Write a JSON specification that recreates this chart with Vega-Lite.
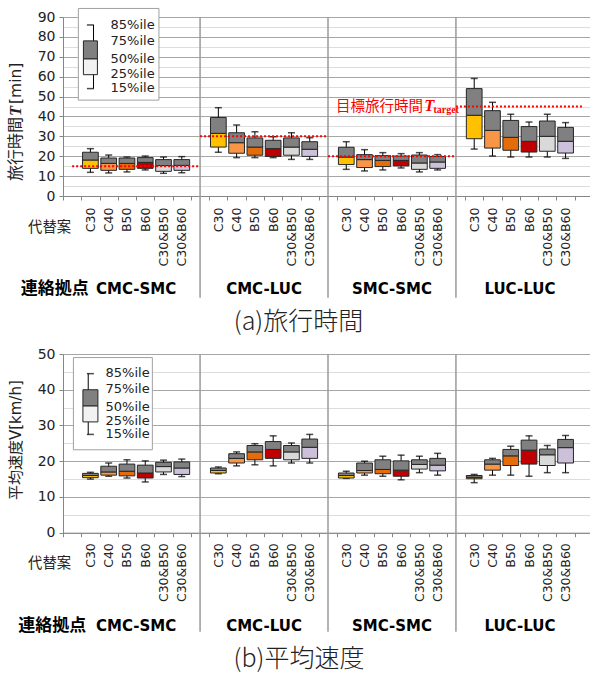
{
  "$schema": "https://vega.github.io/schema/vega-lite/v6.json",
  "background": "white",
  "padding": {"left": 7, "top": 7, "right": 0, "bottom": 3},
  "spacing": 11,
  "config": {
    "view": {"stroke": null},
    "font": "DejaVu Sans",
    "axisY": {"labelOverlap": false, "labelBound": false, "labelSeparation": 0, "tickCount": 10, "tickMinStep": 10, "labelFont": "DejaVu Sans", "labelFontSize": 14, "labelColor": "#222222", "labelPadding": 4}
  },
  "datasets": {
    "groups": [
      {"pair": "CMC-SMC", "gap": "CMC-SMC|", "next": "CMC-LUC|", "mid": "CMC-SMC|B50", "target": 15},
      {"pair": "CMC-LUC", "gap": "CMC-LUC|", "next": "SMC-SMC|", "mid": "CMC-LUC|B50", "target": 30},
      {"pair": "SMC-SMC", "gap": "SMC-SMC|", "next": "LUC-LUC|", "mid": "SMC-SMC|B50", "target": 20},
      {"pair": "LUC-LUC", "gap": "LUC-LUC|", "next": "end|", "mid": "LUC-LUC|B50", "target": 45}
    ],
    "time": [
      {"pair": "CMC-SMC", "alt": "C30", "key": "CMC-SMC|C30", "p15": 11.9, "p25": 13.9, "p50": 18.1, "p75": 22.0, "p85": 23.8},
      {"pair": "CMC-SMC", "alt": "C40", "key": "CMC-SMC|C40", "p15": 11.6, "p25": 12.9, "p50": 16.4, "p75": 19.1, "p85": 20.6},
      {"pair": "CMC-SMC", "alt": "B50", "key": "CMC-SMC|B50", "p15": 12.1, "p25": 13.4, "p50": 16.4, "p75": 19.1, "p85": 19.6},
      {"pair": "CMC-SMC", "alt": "B60", "key": "CMC-SMC|B60", "p15": 13.1, "p25": 13.9, "p50": 16.9, "p75": 19.3, "p85": 20.1},
      {"pair": "CMC-SMC", "alt": "C30&B50", "key": "CMC-SMC|C30&B50", "p15": 11.4, "p25": 12.4, "p50": 15.3, "p75": 18.3, "p85": 19.6},
      {"pair": "CMC-SMC", "alt": "C30&B60", "key": "CMC-SMC|C30&B60", "p15": 11.7, "p25": 12.9, "p50": 15.4, "p75": 18.3, "p85": 19.8},
      {"pair": "CMC-LUC", "alt": "C30", "key": "CMC-LUC|C30", "p15": 22.0, "p25": 24.6, "p50": 31.5, "p75": 39.5, "p85": 44.4},
      {"pair": "CMC-LUC", "alt": "C40", "key": "CMC-LUC|C40", "p15": 19.3, "p25": 21.5, "p50": 26.8, "p75": 31.8, "p85": 35.7},
      {"pair": "CMC-LUC", "alt": "B50", "key": "CMC-LUC|B50", "p15": 19.3, "p25": 20.5, "p50": 24.6, "p75": 29.2, "p85": 32.3},
      {"pair": "CMC-LUC", "alt": "B60", "key": "CMC-LUC|B60", "p15": 19.3, "p25": 19.9, "p50": 23.8, "p75": 28.0, "p85": 29.8},
      {"pair": "CMC-LUC", "alt": "C30&B50", "key": "CMC-LUC|C30&B50", "p15": 18.4, "p25": 20.5, "p50": 24.6, "p75": 29.2, "p85": 31.8},
      {"pair": "CMC-LUC", "alt": "C30&B60", "key": "CMC-LUC|C30&B60", "p15": 18.4, "p25": 19.9, "p50": 23.5, "p75": 27.3, "p85": 29.3},
      {"pair": "SMC-SMC", "alt": "C30", "key": "SMC-SMC|C30", "p15": 13.4, "p25": 15.8, "p50": 19.6, "p75": 24.5, "p85": 27.3},
      {"pair": "SMC-SMC", "alt": "C40", "key": "SMC-SMC|C40", "p15": 12.6, "p25": 14.3, "p50": 18.3, "p75": 20.8, "p85": 23.3},
      {"pair": "SMC-SMC", "alt": "B50", "key": "SMC-SMC|B50", "p15": 13.1, "p25": 14.8, "p50": 17.9, "p75": 20.3, "p85": 21.8},
      {"pair": "SMC-SMC", "alt": "B60", "key": "SMC-SMC|B60", "p15": 14.1, "p25": 15.1, "p50": 17.9, "p75": 20.1, "p85": 21.3},
      {"pair": "SMC-SMC", "alt": "C30&B50", "key": "SMC-SMC|C30&B50", "p15": 12.1, "p25": 13.4, "p50": 16.6, "p75": 20.6, "p85": 21.8},
      {"pair": "SMC-SMC", "alt": "C30&B60", "key": "SMC-SMC|C30&B60", "p15": 13.1, "p25": 13.9, "p50": 17.1, "p75": 19.9, "p85": 20.8},
      {"pair": "LUC-LUC", "alt": "C30", "key": "LUC-LUC|C30", "p15": 23.6, "p25": 28.8, "p50": 40.6, "p75": 54.0, "p85": 59.1},
      {"pair": "LUC-LUC", "alt": "C40", "key": "LUC-LUC|C40", "p15": 20.1, "p25": 24.1, "p50": 33.0, "p75": 42.9, "p85": 47.1},
      {"pair": "LUC-LUC", "alt": "B50", "key": "LUC-LUC|B50", "p15": 19.6, "p25": 23.0, "p50": 29.5, "p75": 38.0, "p85": 41.1},
      {"pair": "LUC-LUC", "alt": "B60", "key": "LUC-LUC|B60", "p15": 19.6, "p25": 22.1, "p50": 27.5, "p75": 34.9, "p85": 37.2},
      {"pair": "LUC-LUC", "alt": "C30&B50", "key": "LUC-LUC|C30&B50", "p15": 19.6, "p25": 22.5, "p50": 30.0, "p75": 37.7, "p85": 41.1},
      {"pair": "LUC-LUC", "alt": "C30&B60", "key": "LUC-LUC|C30&B60", "p15": 18.9, "p25": 21.6, "p50": 27.5, "p75": 34.5, "p85": 36.9}
    ],
    "speed": [
      {"pair": "CMC-SMC", "alt": "C30", "key": "CMC-SMC|C30", "p15": 15.0, "p25": 15.4, "p50": 16.0, "p75": 16.6, "p85": 16.9},
      {"pair": "CMC-SMC", "alt": "C40", "key": "CMC-SMC|C40", "p15": 15.8, "p25": 16.1, "p50": 17.0, "p75": 18.6, "p85": 19.5},
      {"pair": "CMC-SMC", "alt": "B50", "key": "CMC-SMC|B50", "p15": 15.3, "p25": 15.9, "p50": 17.2, "p75": 19.2, "p85": 20.4},
      {"pair": "CMC-SMC", "alt": "B60", "key": "CMC-SMC|B60", "p15": 14.2, "p25": 15.3, "p50": 16.7, "p75": 18.9, "p85": 20.1},
      {"pair": "CMC-SMC", "alt": "C30&B50", "key": "CMC-SMC|C30&B50", "p15": 16.3, "p25": 17.0, "p50": 18.5, "p75": 19.7, "p85": 20.3},
      {"pair": "CMC-SMC", "alt": "C30&B60", "key": "CMC-SMC|C30&B60", "p15": 15.7, "p25": 16.3, "p50": 18.1, "p75": 19.8, "p85": 20.6},
      {"pair": "CMC-LUC", "alt": "C30", "key": "CMC-LUC|C30", "p15": 16.5, "p25": 16.7, "p50": 17.4, "p75": 18.1, "p85": 18.4},
      {"pair": "CMC-LUC", "alt": "C40", "key": "CMC-LUC|C40", "p15": 18.7, "p25": 19.5, "p50": 20.8, "p75": 22.1, "p85": 22.6},
      {"pair": "CMC-LUC", "alt": "B50", "key": "CMC-LUC|B50", "p15": 19.0, "p25": 20.4, "p50": 22.6, "p75": 24.4, "p85": 24.9},
      {"pair": "CMC-LUC", "alt": "B60", "key": "CMC-LUC|B60", "p15": 18.7, "p25": 20.8, "p50": 23.3, "p75": 25.5, "p85": 27.1},
      {"pair": "CMC-LUC", "alt": "C30&B50", "key": "CMC-LUC|C30&B50", "p15": 19.5, "p25": 20.4, "p50": 22.6, "p75": 24.4, "p85": 25.1},
      {"pair": "CMC-LUC", "alt": "C30&B60", "key": "CMC-LUC|C30&B60", "p15": 19.5, "p25": 20.8, "p50": 23.9, "p75": 26.2, "p85": 27.5},
      {"pair": "SMC-SMC", "alt": "C30", "key": "SMC-SMC|C30", "p15": 15.2, "p25": 15.3, "p50": 16.0, "p75": 16.7, "p85": 17.2},
      {"pair": "SMC-SMC", "alt": "C40", "key": "SMC-SMC|C40", "p15": 16.1, "p25": 16.7, "p50": 17.4, "p75": 19.5, "p85": 20.0},
      {"pair": "SMC-SMC", "alt": "B50", "key": "SMC-SMC|B50", "p15": 15.8, "p25": 16.5, "p50": 17.7, "p75": 20.4, "p85": 21.4},
      {"pair": "SMC-SMC", "alt": "B60", "key": "SMC-SMC|B60", "p15": 14.8, "p25": 15.8, "p50": 17.5, "p75": 20.1, "p85": 21.7},
      {"pair": "SMC-SMC", "alt": "C30&B50", "key": "SMC-SMC|C30&B50", "p15": 16.8, "p25": 17.8, "p50": 19.1, "p75": 20.4, "p85": 21.4},
      {"pair": "SMC-SMC", "alt": "C30&B60", "key": "SMC-SMC|C30&B60", "p15": 16.1, "p25": 17.3, "p50": 18.9, "p75": 20.8, "p85": 22.2},
      {"pair": "LUC-LUC", "alt": "C30", "key": "LUC-LUC|C30", "p15": 14.0, "p25": 15.1, "p50": 15.5, "p75": 16.0, "p85": 16.3},
      {"pair": "LUC-LUC", "alt": "C40", "key": "LUC-LUC|C40", "p15": 16.1, "p25": 17.5, "p50": 19.2, "p75": 20.4, "p85": 20.8},
      {"pair": "LUC-LUC", "alt": "B50", "key": "LUC-LUC|B50", "p15": 16.1, "p25": 18.8, "p50": 21.5, "p75": 23.3, "p85": 24.2},
      {"pair": "LUC-LUC", "alt": "B60", "key": "LUC-LUC|B60", "p15": 15.8, "p25": 19.2, "p50": 23.1, "p75": 25.9, "p85": 27.1},
      {"pair": "LUC-LUC", "alt": "C30&B50", "key": "LUC-LUC|C30&B50", "p15": 16.8, "p25": 18.8, "p50": 21.8, "p75": 23.4, "p85": 24.4},
      {"pair": "LUC-LUC", "alt": "C30&B60", "key": "LUC-LUC|C30&B60", "p15": 16.8, "p25": 19.5, "p50": 23.8, "p75": 26.1, "p85": 27.2}
    ],
    "legendTime": [{"p15": 54, "p25": 61, "p50": 69, "p75": 78, "p85": 86}],
    "legendTimeLabels": [
      {"label": "85%ile", "v": 86.2},
      {"label": "75%ile", "v": 77.9},
      {"label": "50%ile", "v": 68.7},
      {"label": "25%ile", "v": 61.3},
      {"label": "15%ile", "v": 54.5}
    ],
    "legendSpeed": [{"p15": 27.5, "p25": 31, "p50": 35.5, "p75": 40, "p85": 44.5}],
    "legendSpeedLabels": [
      {"label": "85%ile", "v": 44.8},
      {"label": "75%ile", "v": 40.2},
      {"label": "50%ile", "v": 35.3},
      {"label": "25%ile", "v": 31.3},
      {"label": "15%ile", "v": 27.5}
    ]
  },
  "vconcat": [
    {
      "width": 530,
      "height": 179,
      "title": {"text": "(a)旅行時間", "orient": "bottom", "anchor": "middle", "frame": "bounds", "dx": -2, "offset": 12, "font": "Noto Sans CJK JP", "fontSize": 25, "fontWeight": 300, "color": "#222222"},
      "resolve": {"axis": {"y": "independent"}},
      "layer": [
        {
          "data": {"name": "groups"},
          "transform": [{"filter": "datum.pair !== 'CMC-SMC'"}],
          "mark": {"type": "rule", "color": "#9A9A9A", "strokeWidth": 1.5},
          "encoding": {
            "x": {"field": "gap", "type": "ordinal", "bandPosition": 0.5},
            "y": {
              "datum": 90, "type": "quantitative",
              "scale": {"domain": [0, 90], "nice": false},
              "axis": {"orient": "left", "title": null, "values": [5, 15, 25, 35, 45, 55, 65, 75, 85], "grid": true, "gridColor": "#DCDCDC", "labels": false, "ticks": false, "domain": false}
            },
            "y2": {"datum": -51.1}
          }
        },
        {
          "layer": [
            {
              "data": {"name": "time"},
              "layer": [
                {
                  "mark": {"type": "rule", "color": "#000000", "strokeWidth": 1},
                  "encoding": {
                    "x": {
                      "field": "key", "type": "ordinal",
                      "scale": {"type": "band", "paddingInner": 0, "paddingOuter": 0, "domain": [
                        "CMC-SMC|", "CMC-SMC|C30", "CMC-SMC|C40", "CMC-SMC|B50", "CMC-SMC|B60", "CMC-SMC|C30&B50", "CMC-SMC|C30&B60",
                        "CMC-LUC|", "CMC-LUC|C30", "CMC-LUC|C40", "CMC-LUC|B50", "CMC-LUC|B60", "CMC-LUC|C30&B50", "CMC-LUC|C30&B60",
                        "SMC-SMC|", "SMC-SMC|C30", "SMC-SMC|C40", "SMC-SMC|B50", "SMC-SMC|B60", "SMC-SMC|C30&B50", "SMC-SMC|C30&B60",
                        "LUC-LUC|", "LUC-LUC|C30", "LUC-LUC|C40", "LUC-LUC|B50", "LUC-LUC|B60", "LUC-LUC|C30&B50", "LUC-LUC|C30&B60",
                        "end|"]},
                      "axis": {"title": null, "grid": false, "labelExpr": "split(datum.value, '|')[1]", "labelAngle": -90, "labelOverlap": false, "labelFont": "DejaVu Sans", "labelFontSize": 12.5, "labelColor": "#222222", "labelPadding": 7, "tickBand": "extent", "tickSize": 4, "tickColor": "#868686", "domainColor": "#868686"}
                    },
                    "y": {
                      "field": "p15", "type": "quantitative",
                      "scale": {"domain": [0, 90], "nice": false},
                      "axis": {
                        "orient": "left", "title": null,
                        "values": [0, 10, 20, 30, 40, 50, 60, 70, 80, 90],
                        "labelOverlap": false,
                        "grid": true, "gridColor": "#A6A6A6",
                        "tickSize": 4, "tickColor": "#868686", "domainColor": "#868686"
                      }
                    },
                    "y2": {"field": "p85"}
                  }
                },
                {
                  "mark": {"type": "tick", "color": "#000000", "size": 7, "thickness": 1.5},
                  "encoding": {"x": {"field": "key", "type": "ordinal"}, "y": {"field": "p15", "type": "quantitative"}}
                },
                {
                  "mark": {"type": "tick", "color": "#000000", "size": 7, "thickness": 1.5},
                  "encoding": {"x": {"field": "key", "type": "ordinal"}, "y": {"field": "p85", "type": "quantitative"}}
                },
                {
                  "mark": {"type": "bar", "width": {"band": 0.86}, "stroke": "#262626", "strokeWidth": 1},
                  "encoding": {
                    "x": {"field": "key", "type": "ordinal"},
                    "y": {"field": "p25", "type": "quantitative"},
                    "y2": {"field": "p50"},
                    "color": {"field": "alt", "type": "nominal", "legend": null, "scale": {"domain": ["C30", "C40", "B50", "B60", "C30&B50", "C30&B60"], "range": ["#FFC000", "#F79646", "#E46C0A", "#C00000", "#D9D9D9", "#CCC0DA"]}}
                  }
                },
                {
                  "mark": {"type": "bar", "width": {"band": 0.86}, "fill": "#808080", "stroke": "#262626", "strokeWidth": 1},
                  "encoding": {"x": {"field": "key", "type": "ordinal"}, "y": {"field": "p50", "type": "quantitative"}, "y2": {"field": "p75"}}
                }
              ]
            },
            {
              "data": {"name": "groups"},
              "mark": {"type": "rule", "color": "#FF0000", "strokeWidth": 2, "strokeDash": [2, 2]},
              "encoding": {
                "x": {"field": "gap", "type": "ordinal", "bandPosition": 0.5},
                "x2": {"field": "next", "bandPosition": 0.5},
                "y": {"field": "target", "type": "quantitative"}
              }
            },
            {
              "data": {"name": "legendTime"},
              "layer": [
                {
                  "mark": {"type": "rect", "fill": "#FFFFFF", "stroke": "#A0A0A0", "strokeWidth": 1},
                  "encoding": {
                    "x": {"datum": "CMC-SMC|", "type": "ordinal", "bandPosition": 0.84},
                    "x2": {"datum": "CMC-SMC|C30&B50", "bandPosition": 0.25},
                    "y": {"datum": 94.3, "type": "quantitative"},
                    "y2": {"datum": 48.2}
                  }
                },
                {
                  "mark": {"type": "rule", "color": "#000000", "strokeWidth": 1},
                  "encoding": {"x": {"datum": "CMC-SMC|C30", "type": "ordinal", "bandPosition": 0.67}, "y": {"field": "p15", "type": "quantitative"}, "y2": {"field": "p85"}}
                },
                {
                  "mark": {"type": "tick", "color": "#000000", "size": 7, "thickness": 1.5},
                  "encoding": {"x": {"datum": "CMC-SMC|C30", "type": "ordinal", "bandPosition": 0.67}, "y": {"field": "p15", "type": "quantitative"}}
                },
                {
                  "mark": {"type": "tick", "color": "#000000", "size": 7, "thickness": 1.5},
                  "encoding": {"x": {"datum": "CMC-SMC|C30", "type": "ordinal", "bandPosition": 0.67}, "y": {"field": "p85", "type": "quantitative"}}
                },
                {
                  "mark": {"type": "bar", "width": 14, "fill": "#F2F2F2", "stroke": "#262626", "strokeWidth": 1},
                  "encoding": {"x": {"datum": "CMC-SMC|C30", "type": "ordinal", "bandPosition": 0.67}, "y": {"field": "p25", "type": "quantitative"}, "y2": {"field": "p50"}}
                },
                {
                  "mark": {"type": "bar", "width": 14, "fill": "#808080", "stroke": "#262626", "strokeWidth": 1},
                  "encoding": {"x": {"datum": "CMC-SMC|C30", "type": "ordinal", "bandPosition": 0.67}, "y": {"field": "p50", "type": "quantitative"}, "y2": {"field": "p75"}}
                }
              ]
            },
            {
              "data": {"name": "legendTimeLabels"},
              "mark": {"type": "text", "align": "left", "baseline": "middle", "font": "DejaVu Sans", "fontSize": 13, "color": "#222222"},
              "encoding": {"x": {"datum": "CMC-SMC|C40", "type": "ordinal", "bandPosition": 0.6}, "y": {"field": "v", "type": "quantitative"}, "text": {"field": "label"}}
            },
            {
              "data": {"values": [{}]},
              "layer": [
                {
                  "mark": {"type": "text", "text": "旅行時間", "angle": 270, "align": "left", "baseline": "middle", "font": "Noto Sans CJK JP", "fontSize": 16, "color": "#222222", "dy": -47.5},
                  "encoding": {"x": {"datum": "CMC-SMC|", "type": "ordinal", "bandPosition": 0}, "y": {"datum": 7.54, "type": "quantitative"}}
                },
                {
                  "mark": {"type": "text", "text": "T", "angle": 270, "align": "left", "baseline": "middle", "font": "Liberation Serif", "fontStyle": "italic", "fontWeight": "bold", "fontSize": 16.5, "color": "#222222", "dx": 65, "dy": -47.5},
                  "encoding": {"x": {"datum": "CMC-SMC|", "type": "ordinal", "bandPosition": 0}, "y": {"datum": 7.54, "type": "quantitative"}}
                },
                {
                  "mark": {"type": "text", "text": "[min]", "angle": 270, "align": "left", "baseline": "middle", "font": "DejaVu Sans", "fontSize": 15.5, "color": "#222222", "dx": 77, "dy": -47.5},
                  "encoding": {"x": {"datum": "CMC-SMC|", "type": "ordinal", "bandPosition": 0}, "y": {"datum": 7.54, "type": "quantitative"}}
                },
                {
                  "mark": {"type": "text", "text": "目標旅行時間", "align": "right", "baseline": "alphabetic", "font": "Noto Sans CJK JP", "fontSize": 14.5, "color": "#FF0000", "dx": -33},
                  "encoding": {"x": {"datum": "LUC-LUC|", "type": "ordinal", "bandPosition": 0.5}, "y": {"datum": 42.7, "type": "quantitative"}}
                },
                {
                  "mark": {"type": "text", "text": "T", "align": "right", "baseline": "alphabetic", "font": "Liberation Serif", "fontStyle": "italic", "fontWeight": "bold", "fontSize": 16.5, "color": "#FF0000", "dx": -21.5},
                  "encoding": {"x": {"datum": "LUC-LUC|", "type": "ordinal", "bandPosition": 0.5}, "y": {"datum": 42.7, "type": "quantitative"}}
                },
                {
                  "mark": {"type": "text", "text": "target", "align": "right", "baseline": "alphabetic", "font": "Liberation Serif", "fontWeight": "bold", "fontSize": 10, "color": "#FF0000", "dx": 3, "dy": 1.5},
                  "encoding": {"x": {"datum": "LUC-LUC|", "type": "ordinal", "bandPosition": 0.5}, "y": {"datum": 42.7, "type": "quantitative"}}
                },
                {
                  "mark": {"type": "text", "text": "代替案", "align": "right", "baseline": "middle", "font": "Noto Sans CJK JP", "fontSize": 14.3, "color": "#222222", "dx": 8},
                  "encoding": {"x": {"datum": "CMC-SMC|", "type": "ordinal", "bandPosition": 0}, "y": {"datum": -16.3, "type": "quantitative"}}
                },
                {
                  "mark": {"type": "text", "text": "連絡拠点", "align": "right", "baseline": "middle", "font": "Noto Sans CJK JP", "fontWeight": "bold", "fontSize": 17, "color": "#000000", "dx": 7.5},
                  "encoding": {"x": {"datum": "CMC-SMC|C30", "type": "ordinal", "bandPosition": 0}, "y": {"datum": -46.9, "type": "quantitative"}}
                }
              ]
            },
            {
              "data": {"name": "groups"},
              "mark": {"type": "text", "align": "center", "baseline": "middle", "font": "DejaVu Sans", "fontWeight": "bold", "fontSize": 15, "color": "#000000"},
              "encoding": {"x": {"field": "mid", "type": "ordinal", "bandPosition": 1}, "y": {"datum": -46.9, "type": "quantitative"}, "text": {"field": "pair"}}
            }
          ]
        }
      ]
    },
    {
      "width": 530,
      "height": 178.7,
      "title": {"text": "(b)平均速度", "orient": "bottom", "anchor": "middle", "frame": "bounds", "dx": -2, "offset": 13, "font": "Noto Sans CJK JP", "fontSize": 25, "fontWeight": 300, "color": "#222222"},
      "resolve": {"axis": {"y": "independent"}},
      "layer": [
        {
          "data": {"name": "groups"},
          "transform": [{"filter": "datum.pair !== 'CMC-SMC'"}],
          "mark": {"type": "rule", "color": "#9A9A9A", "strokeWidth": 1.5},
          "encoding": {
            "x": {"field": "gap", "type": "ordinal", "bandPosition": 0.5},
            "y": {
              "datum": 50, "type": "quantitative",
              "scale": {"domain": [0, 50], "nice": false},
              "axis": {"orient": "left", "title": null, "values": [5, 15, 25, 35, 45], "grid": true, "gridColor": "#DCDCDC", "labels": false, "ticks": false, "domain": false}
            },
            "y2": {"datum": -27.7}
          }
        },
        {
          "layer": [
            {
              "data": {"name": "speed"},
              "layer": [
                {
                  "mark": {"type": "rule", "color": "#000000", "strokeWidth": 1},
                  "encoding": {
                    "x": {
                      "field": "key", "type": "ordinal",
                      "scale": {"type": "band", "paddingInner": 0, "paddingOuter": 0, "domain": [
                        "CMC-SMC|", "CMC-SMC|C30", "CMC-SMC|C40", "CMC-SMC|B50", "CMC-SMC|B60", "CMC-SMC|C30&B50", "CMC-SMC|C30&B60",
                        "CMC-LUC|", "CMC-LUC|C30", "CMC-LUC|C40", "CMC-LUC|B50", "CMC-LUC|B60", "CMC-LUC|C30&B50", "CMC-LUC|C30&B60",
                        "SMC-SMC|", "SMC-SMC|C30", "SMC-SMC|C40", "SMC-SMC|B50", "SMC-SMC|B60", "SMC-SMC|C30&B50", "SMC-SMC|C30&B60",
                        "LUC-LUC|", "LUC-LUC|C30", "LUC-LUC|C40", "LUC-LUC|B50", "LUC-LUC|B60", "LUC-LUC|C30&B50", "LUC-LUC|C30&B60",
                        "end|"]},
                      "axis": {"title": null, "grid": false, "labelExpr": "split(datum.value, '|')[1]", "labelAngle": -90, "labelOverlap": false, "labelFont": "DejaVu Sans", "labelFontSize": 12.5, "labelColor": "#222222", "labelPadding": 6, "tickBand": "extent", "tickSize": 4, "tickColor": "#868686", "domainColor": "#868686"}
                    },
                    "y": {
                      "field": "p15", "type": "quantitative",
                      "scale": {"domain": [0, 50], "nice": false},
                      "axis": {
                        "orient": "left", "title": null,
                        "values": [0, 10, 20, 30, 40, 50],
                        "labelOverlap": false,
                        "grid": true, "gridColor": "#A6A6A6",
                        "tickSize": 4, "tickColor": "#868686", "domainColor": "#868686"
                      }
                    },
                    "y2": {"field": "p85"}
                  }
                },
                {
                  "mark": {"type": "tick", "color": "#000000", "size": 7, "thickness": 1.5},
                  "encoding": {"x": {"field": "key", "type": "ordinal"}, "y": {"field": "p15", "type": "quantitative"}}
                },
                {
                  "mark": {"type": "tick", "color": "#000000", "size": 7, "thickness": 1.5},
                  "encoding": {"x": {"field": "key", "type": "ordinal"}, "y": {"field": "p85", "type": "quantitative"}}
                },
                {
                  "mark": {"type": "bar", "width": {"band": 0.86}, "stroke": "#262626", "strokeWidth": 1},
                  "encoding": {
                    "x": {"field": "key", "type": "ordinal"},
                    "y": {"field": "p25", "type": "quantitative"},
                    "y2": {"field": "p50"},
                    "color": {"field": "alt", "type": "nominal", "legend": null, "scale": {"domain": ["C30", "C40", "B50", "B60", "C30&B50", "C30&B60"], "range": ["#FFC000", "#F79646", "#E46C0A", "#C00000", "#D9D9D9", "#CCC0DA"]}}
                  }
                },
                {
                  "mark": {"type": "bar", "width": {"band": 0.86}, "fill": "#808080", "stroke": "#262626", "strokeWidth": 1},
                  "encoding": {"x": {"field": "key", "type": "ordinal"}, "y": {"field": "p50", "type": "quantitative"}, "y2": {"field": "p75"}}
                }
              ]
            },
            {
              "data": {"name": "legendSpeed"},
              "layer": [
                {
                  "mark": {"type": "rect", "fill": "#FFFFFF", "stroke": "#A0A0A0", "strokeWidth": 1},
                  "encoding": {
                    "x": {"datum": "CMC-SMC|", "type": "ordinal", "bandPosition": 0.57},
                    "x2": {"datum": "CMC-SMC|B60", "bandPosition": 0.89},
                    "y": {"datum": 49.0, "type": "quantitative"},
                    "y2": {"datum": 23.2}
                  }
                },
                {
                  "mark": {"type": "rule", "color": "#000000", "strokeWidth": 1},
                  "encoding": {"x": {"datum": "CMC-SMC|C30", "type": "ordinal", "bandPosition": 0.38}, "y": {"field": "p15", "type": "quantitative"}, "y2": {"field": "p85"}}
                },
                {
                  "mark": {"type": "tick", "color": "#000000", "size": 7, "thickness": 1.5},
                  "encoding": {"x": {"datum": "CMC-SMC|C30", "type": "ordinal", "bandPosition": 0.38}, "y": {"field": "p15", "type": "quantitative"}}
                },
                {
                  "mark": {"type": "tick", "color": "#000000", "size": 7, "thickness": 1.5},
                  "encoding": {"x": {"datum": "CMC-SMC|C30", "type": "ordinal", "bandPosition": 0.38}, "y": {"field": "p85", "type": "quantitative"}}
                },
                {
                  "mark": {"type": "bar", "width": 15, "fill": "#F2F2F2", "stroke": "#262626", "strokeWidth": 1},
                  "encoding": {"x": {"datum": "CMC-SMC|C30", "type": "ordinal", "bandPosition": 0.38}, "y": {"field": "p25", "type": "quantitative"}, "y2": {"field": "p50"}}
                },
                {
                  "mark": {"type": "bar", "width": 15, "fill": "#808080", "stroke": "#262626", "strokeWidth": 1},
                  "encoding": {"x": {"datum": "CMC-SMC|C30", "type": "ordinal", "bandPosition": 0.38}, "y": {"field": "p50", "type": "quantitative"}, "y2": {"field": "p75"}}
                }
              ]
            },
            {
              "data": {"name": "legendSpeedLabels"},
              "mark": {"type": "text", "align": "left", "baseline": "middle", "font": "DejaVu Sans", "fontSize": 13, "color": "#222222"},
              "encoding": {"x": {"datum": "CMC-SMC|C40", "type": "ordinal", "bandPosition": 0.33}, "y": {"field": "v", "type": "quantitative"}, "text": {"field": "label"}}
            },
            {
              "data": {"values": [{}]},
              "layer": [
                {
                  "mark": {"type": "text", "text": "平均速度V[km/h]", "angle": 270, "align": "center", "baseline": "middle", "font": "DejaVu Sans, Noto Sans CJK JP", "fontSize": 15, "color": "#222222", "dy": -47.5},
                  "encoding": {"x": {"datum": "CMC-SMC|", "type": "ordinal", "bandPosition": 0}, "y": {"datum": 25.9, "type": "quantitative"}}
                },
                {
                  "mark": {"type": "text", "text": "代替案", "align": "right", "baseline": "middle", "font": "Noto Sans CJK JP", "fontSize": 14.3, "color": "#222222", "dx": 8},
                  "encoding": {"x": {"datum": "CMC-SMC|", "type": "ordinal", "bandPosition": 0}, "y": {"datum": -8.84, "type": "quantitative"}}
                },
                {
                  "mark": {"type": "text", "text": "連絡拠点", "align": "right", "baseline": "middle", "font": "Noto Sans CJK JP", "fontWeight": "bold", "fontSize": 17, "color": "#000000", "dx": 5},
                  "encoding": {"x": {"datum": "CMC-SMC|C30", "type": "ordinal", "bandPosition": 0}, "y": {"datum": -26.0, "type": "quantitative"}}
                }
              ]
            },
            {
              "data": {"name": "groups"},
              "mark": {"type": "text", "align": "center", "baseline": "middle", "font": "DejaVu Sans", "fontWeight": "bold", "fontSize": 15, "color": "#000000"},
              "encoding": {"x": {"field": "mid", "type": "ordinal", "bandPosition": 1}, "y": {"datum": -26.0, "type": "quantitative"}, "text": {"field": "pair"}}
            }
          ]
        }
      ]
    }
  ]
}
